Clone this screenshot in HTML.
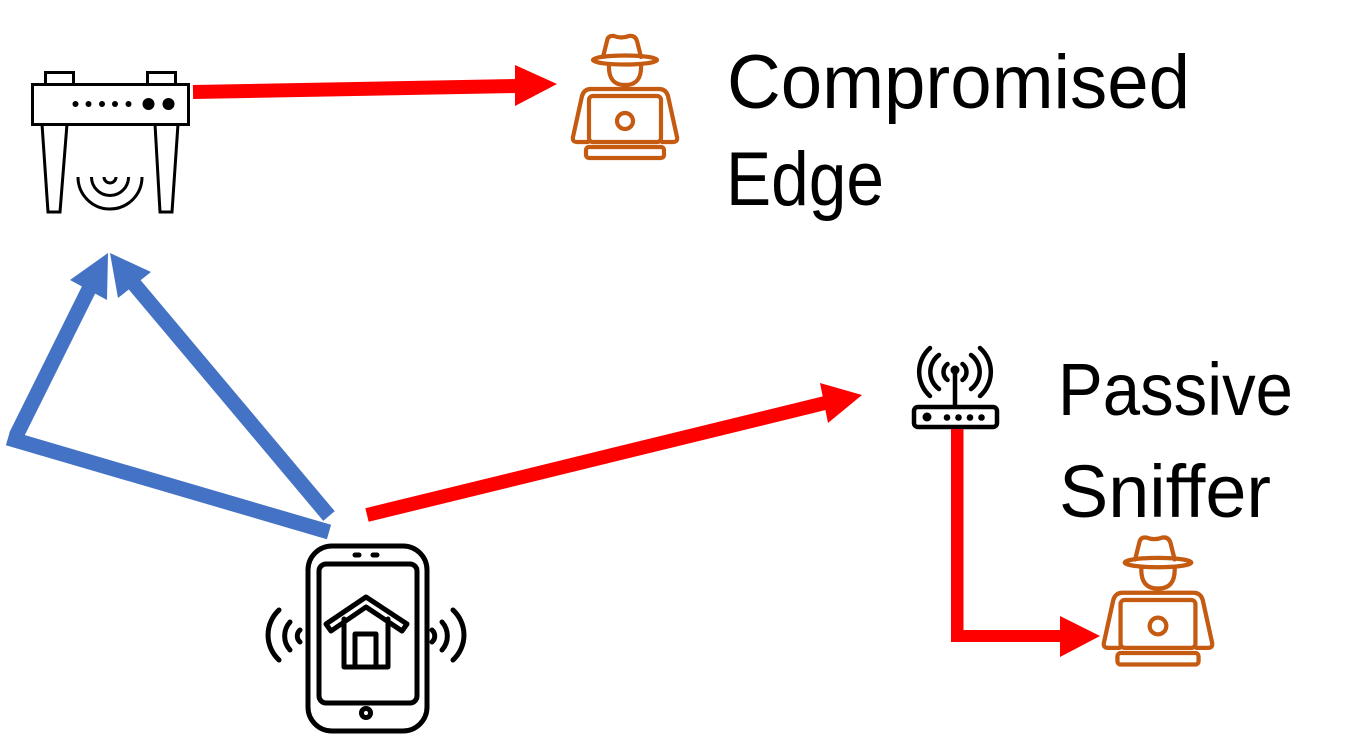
<!DOCTYPE html>
<html>
<head>
<meta charset="utf-8">
<style>
  html, body { margin: 0; padding: 0; background: #ffffff; }
  body { width: 1365px; height: 737px; overflow: hidden; }
  svg { display: block; }
  text { font-family: "Liberation Sans", "DejaVu Sans", sans-serif; fill: #000; }
</style>
</head>
<body>
<svg width="1365" height="737" viewBox="0 0 1365 737" xmlns="http://www.w3.org/2000/svg">
  <rect width="1365" height="737" fill="#ffffff"/>

  <!-- ===== Blue arrows ===== -->
  <g fill="#4472C4" stroke="none">
    <line x1="8" y1="438" x2="329" y2="532" stroke="#4472C4" stroke-width="15"/>
    <line x1="16" y1="436" x2="90" y2="287" stroke="#4472C4" stroke-width="15"/>
    <polygon points="108,253 70,280 107,300"/>
    <line x1="329" y1="516" x2="134" y2="284" stroke="#4472C4" stroke-width="15"/>
    <polygon points="110,253 118,298 151,272"/>
  </g>

  <!-- ===== Red arrows ===== -->
  <g fill="#FF0000">
    <line x1="193" y1="92" x2="517" y2="86" stroke="#FF0000" stroke-width="14"/>
    <polygon points="515,65 557,84 515,106"/>

    <line x1="367" y1="515" x2="825" y2="403" stroke="#FF0000" stroke-width="14"/>
    <polygon points="820,383 862,395 828,423"/>

    <rect x="951" y="426" width="12.5" height="216"/>
    <rect x="951" y="630" width="111" height="12"/>
    <polygon points="1060,616 1100,636 1060,657"/>
  </g>

  <!-- ===== Top-left edge device ===== -->
  <g stroke="#000" stroke-width="3" fill="#fff" stroke-linejoin="miter">
    <rect x="45.5" y="72.5" width="28" height="12"/>
    <rect x="147.5" y="72.5" width="28" height="12"/>
    <polygon points="42,124 67,124 60,212 48,212"/>
    <polygon points="155,124 178,124 172,212 160,212"/>
    <rect x="32.5" y="84.5" width="156" height="40"/>
  </g>
  <g fill="#000">
    <circle cx="75.5" cy="104" r="3"/>
    <circle cx="88.5" cy="104" r="3"/>
    <circle cx="102" cy="104" r="3"/>
    <circle cx="115" cy="104" r="3"/>
    <circle cx="128.5" cy="104" r="3"/>
    <circle cx="148.5" cy="104" r="6"/>
    <circle cx="168.5" cy="104" r="6"/>
  </g>
  <g stroke="#000" stroke-width="3" fill="none">
    <path d="M104,177 A6,6 0 0 0 116,177"/>
    <path d="M91.5,177 A18.5,18.5 0 0 0 128.5,177"/>
    <path d="M78,177 A32,32 0 0 0 142,177"/>
  </g>

  <!-- ===== Hacker icon 1 ===== -->
  <g stroke="#C55A11" stroke-width="4.2" fill="none" stroke-linejoin="round" stroke-linecap="round">
    <path d="M603,57 L607,41 Q608,35 614,36 Q621,39 629,36 Q635,35 637,41 L641,57"/>
    <ellipse cx="625" cy="60" rx="32" ry="4.5"/>
    <path d="M609,65 Q608,85 625,85 Q642,85 641,65"/>
    <line x1="625" y1="85" x2="625" y2="89"/>
    <path d="M588,142 L577,142 Q572,142 573,137 L582,96 Q584,89 591,89 L659,89 Q666,89 668,96 L677,137 Q678,142 673,142 L662,142"/>
    <rect x="589" y="96" width="72" height="46" rx="4" fill="#fff"/>
    <circle cx="625" cy="121" r="8"/>
    <rect x="586" y="147" width="78" height="11" rx="3"/>
  </g>

  <!-- ===== Hacker icon 2 ===== -->
  <g transform="translate(1158,600) scale(1.04) translate(-625,-96)" stroke="#C55A11" stroke-width="4.1" fill="none" stroke-linejoin="round" stroke-linecap="round">
    <path d="M603,57 L607,41 Q608,35 614,36 Q621,39 629,36 Q635,35 637,41 L641,57"/>
    <ellipse cx="625" cy="60" rx="32" ry="4.5"/>
    <path d="M609,65 Q608,85 625,85 Q642,85 641,65"/>
    <line x1="625" y1="85" x2="625" y2="89"/>
    <path d="M588,142 L577,142 Q572,142 573,137 L582,96 Q584,89 591,89 L659,89 Q666,89 668,96 L677,137 Q678,142 673,142 L662,142"/>
    <rect x="589" y="96" width="72" height="46" rx="4" fill="#fff"/>
    <circle cx="625" cy="121" r="8"/>
    <rect x="586" y="147" width="78" height="11" rx="3"/>
  </g>

  <!-- ===== Router (passive sniffer) ===== -->
  <g stroke="#000" stroke-width="4.5" fill="none" stroke-linecap="round">
    <line x1="955" y1="372" x2="955" y2="407"/>
    <path d="M947.5,364 A10,10 0 0 0 947.5,380"/>
    <path d="M962.5,364 A10,10 0 0 1 962.5,380"/>
    <path d="M939,355 A21,21 0 0 0 939,389"/>
    <path d="M971,355 A21,21 0 0 1 971,389"/>
    <path d="M930,348 A32,32 0 0 0 930,396"/>
    <path d="M980,348 A32,32 0 0 1 980,396"/>
    <rect x="914" y="407" width="83" height="20" rx="4" fill="#fff"/>
  </g>
  <g fill="#000">
    <circle cx="955" cy="370" r="4.5"/>
    <circle cx="927" cy="417" r="4.5"/>
    <circle cx="947" cy="417.5" r="3.3"/>
    <circle cx="958.5" cy="417.5" r="3.3"/>
    <circle cx="970" cy="417.5" r="3.3"/>
    <circle cx="981.5" cy="417.5" r="3.3"/>
  </g>
  <rect x="951" y="429" width="12.5" height="10" fill="#FF0000"/>

  <!-- ===== Phone ===== -->
  <g stroke="#000" stroke-width="5" fill="none" stroke-linecap="round" stroke-linejoin="round">
    <rect x="308" y="546" width="119" height="185" rx="24"/>
    <rect x="319" y="564" width="98" height="139" rx="7"/>
    <line x1="355" y1="555" x2="359" y2="555"/>
    <line x1="373" y1="555" x2="377" y2="555"/>
    <circle cx="366" cy="713" r="4.5"/>
    <path d="M326,624 L366,597 L407,624 L402,631 L366,607 L331,631 Z"/>
    <path d="M344,619 L344,667 L388,667 L388,619"/>
    <path d="M355,667 L355,634 L376,634 L376,667"/>
    <path d="M300,630 A8,8 0 0 0 300,642"/>
    <path d="M290,622 A21,21 0 0 0 290,650"/>
    <path d="M279,610 A34,34 0 0 0 279,660"/>
    <path d="M432,630 A8,8 0 0 1 432,642"/>
    <path d="M442,622 A21,21 0 0 1 442,650"/>
    <path d="M453,610 A34,34 0 0 1 453,660"/>
  </g>

  <!-- ===== Labels ===== -->
  <text x="727" y="108" font-size="76" textLength="463" lengthAdjust="spacingAndGlyphs">Compromised</text>
  <text x="726" y="205" font-size="76" textLength="158" lengthAdjust="spacingAndGlyphs">Edge</text>
  <text x="1058" y="415" font-size="74" textLength="235" lengthAdjust="spacingAndGlyphs">Passive</text>
  <text x="1059" y="517" font-size="74" textLength="212" lengthAdjust="spacingAndGlyphs">Sniffer</text>
</svg>
</body>
</html>
